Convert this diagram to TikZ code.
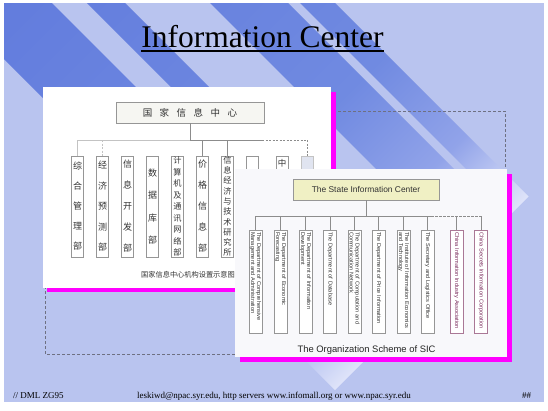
\documentclass[tikz,border=0pt]{standalone}
\usepackage{fontspec}
\setmainfont{Liberation Serif}
\newfontfamily\arial{Liberation Sans}
\newfontfamily\cjk{Noto Sans CJK SC}
\definecolor{bgblue}{RGB}{185,196,239}
\definecolor{bandA}{RGB}{98,124,221}
\definecolor{bandB}{RGB}{112,138,225}
\definecolor{bandC}{RGB}{145,163,233}
\definecolor{bandD}{RGB}{228,232,250}
\definecolor{pinkbar}{RGB}{255,0,255}
\definecolor{framegray}{RGB}{110,112,130}
\definecolor{linegray}{RGB}{140,140,140}
\definecolor{lightline}{RGB}{195,195,195}
\definecolor{boxgray}{RGB}{150,150,150}
\definecolor{txtgray}{RGB}{50,50,50}
\definecolor{purpleline}{RGB}{170,120,150}
\definecolor{purpletext}{RGB}{120,40,90}
\definecolor{yellowfill}{RGB}{240,240,196}
\definecolor{paper}{RGB}{248,248,251}
\definecolor{cnfill}{RGB}{224,228,240}
\definecolor{cntopfill}{RGB}{246,246,242}
\pgfdeclarehorizontalshading{bandshade}{100bp}{color(0bp)=(bandA); color(25bp)=(bandA); color(55bp)=(bandB); color(66bp)=(bandC); color(75bp)=(bandD); color(100bp)=(bandD)}
\begin{document}
\begin{tikzpicture}[x=1pt,y=-1pt,
  cnbox/.style={draw=boxgray, line width=0.6pt, fill=white, minimum width=12pt, minimum height=101pt, inner sep=0pt, align=center, text=txtgray},
  enbox/.style={draw=boxgray, line width=0.6pt, fill=white, rotate=-90, minimum width=103pt, minimum height=13pt, text width=99pt, inner xsep=2pt, inner ysep=0.5pt, align=left, font=\arial\fontsize{5.6}{6}\selectfont, text=txtgray},
  enpurple/.style={enbox, draw=purpleline, text=purpletext},
  conn/.style={draw=linegray, line width=0.6pt},
  lconn/.style={draw=lightline, line width=0.6pt},
  foot/.style={anchor=base west, inner sep=0pt, font=\fontsize{9}{11}\selectfont, text=black}]
\useasboundingbox (0,0) rectangle (548,410);
\fill[white] (0,0) rectangle (548,410);
\fill[bgblue] (4,3) rectangle (544,402);
% diagonal stripes
\begin{scope}
  \clip (4,3) rectangle (544,402);
  \clip (0,0) -- (725,0) -- (0,725) -- cycle;
  \clip (-55,0) -- (49,0) -- (849,800) -- (745,800) -- cycle
        (84,0) -- (122,0) -- (922,800) -- (884,800) -- cycle
        (207,0) -- (285,0) -- (1085,800) -- (1007,800) -- cycle
        (297,0) -- (332,0) -- (1132,800) -- (1097,800) -- cycle;
  \begin{scope}[transform canvas={rotate=-45}]
    \shade[shading=bandshade] (0,-600) rectangle (518,600);
  \end{scope}
\end{scope}
% title
\node[anchor=base, inner sep=0pt, font=\fontsize{31.5}{36}\selectfont] (title) at (262.5,47) {Information Center};
\draw[line width=1.8pt] ([yshift=-4pt]title.base west) -- ([yshift=-4pt]title.base east);
% dashed frame
\draw[framegray, line width=0.8pt, dash pattern=on 3pt off 2pt] (45,111) rectangle (505,354);
% ---------- panel 1 (Chinese) ----------
\fill[pinkbar] (47,92) rectangle (336,292);
\fill[white] (43,87) rectangle (331,288);
\node[draw=boxgray, line width=0.8pt, fill=cntopfill, minimum width=148pt, minimum height=21pt, inner sep=0pt, text=txtgray, font=\cjk\fontsize{9.5}{11}\selectfont] (cntop) at (190,112.5) {国\hspace{7.5pt}家\hspace{7.5pt}信\hspace{7.5pt}息\hspace{7.5pt}中\hspace{7.5pt}心};
\node[cnbox, font=\cjk\fontsize{9}{20}\selectfont] (c1) at (77.5,206.5) {综\\合\\管\\理\\部};
\node[cnbox, font=\cjk\fontsize{9}{20.5}\selectfont] (c2) at (102.5,206.5) {经\\济\\预\\测\\部};
\node[cnbox, font=\cjk\fontsize{9}{21}\selectfont] (c3) at (127.5,206.5) {信\\息\\开\\发\\部};
\node[cnbox, font=\cjk\fontsize{9}{22.5}\selectfont] (c4) at (152.5,206.5) {数\\据\\库\\部};
\node[cnbox, font=\cjk\fontsize{8.2}{11.5}\selectfont] (c5) at (177.5,206.5) {计\\算\\机\\及\\通\\讯\\网\\络\\部};
\node[cnbox, font=\cjk\fontsize{9}{21}\selectfont] (c6) at (202.5,206.5) {价\\格\\信\\息\\部};
\node[cnbox, font=\cjk\fontsize{8.2}{10.3}\selectfont] (c7) at (227.5,206.5) {信\\息\\经\\济\\与\\技\\术\\研\\究\\所};
\node[cnbox] (c8) at (252.5,206.5) {};
\node[cnbox] (c9) at (282,206.5) {};
\node[inner sep=0pt, text=txtgray, font=\cjk\fontsize{8.5}{10}\selectfont] (c9t) at (282,163) {中};
\node[cnbox, fill=cnfill, draw=lightline] (c10) at (307,206.5) {};
\coordinate (cbus) at (190,140);
\coordinate (cdash) at (262,140);
\draw[conn] (cntop.south) -- (cbus);
\draw[lconn] (c1.north |- cbus) -- (cbus);
\draw[conn] (cbus) -- (cdash);
\draw[conn, dash pattern=on 2pt off 1.5pt] (cdash) -- (c10.north |- cbus);
\draw[lconn] (c1.north |- cbus) -- (c1.north);
\draw[lconn, dash pattern=on 2pt off 1.5pt] (c2.north |- cbus) -- (c2.north);
\draw[conn] (c6.north |- cbus) -- (c6.north);
\draw[conn] (c7.north |- cbus) -- (c7.north);
\draw[conn, dash pattern=on 2pt off 1.5pt] (c10.north |- cbus) -- (c10.north);
\node[anchor=west, inner sep=0pt, text=txtgray, font=\cjk\fontsize{7.2}{9}\selectfont] (cncap) at (141,275) {国家信息中心机构设置示意图};
% ---------- panel 2 (English) ----------
\fill[pinkbar] (240,174) rectangle (512,362);
\fill[paper] (235,169) rectangle (507,357);
\node[draw=boxgray, line width=0.8pt, fill=yellowfill, minimum width=146pt, minimum height=21pt, inner sep=0pt, text=txtgray, font=\arial\fontsize{8.4}{10}\selectfont] (etop) at (366,189.5) {The State Information Center};
\node[enbox] (e1) at (255.5,281.5) {The Department of Comprehensive\\Management and Administration};
\node[enbox] (e2) at (280.5,281.5) {The Department of Economic\\Forecasting};
\node[enbox] (e3) at (305.5,281.5) {The Department of Information\\Development};
\node[enbox] (e4) at (330,281.5) {The Department of Database};
\node[enbox] (e5) at (354.5,281.5) {The Department of Computation and\\Communication Network};
\node[enbox] (e6) at (378.5,281.5) {The Department of Price Information};
\node[enbox] (e7) at (403.5,281.5) {The Institute of Information Economics\\and Technology};
\node[enbox] (e8) at (427.5,281.5) {The Secretary and Logistics Office};
\node[enpurple] (e9) at (456.5,281.5) {China Information Industry Association};
\node[enpurple] (e10) at (481,281.5) {China Secrets Information Corporation};
\coordinate (ebus) at (366,216);
\coordinate (edash) at (431,216);
\draw[conn] (etop.south) -- (ebus);
\draw[conn] (e1.west |- ebus) -- (edash);
\draw[conn, dash pattern=on 2.5pt off 1.5pt] (edash) -- (e10.west |- ebus);
\foreach \k in {1,...,10} {\draw[conn] (e\k.west |- ebus) -- (e\k.west);}
\node[inner sep=0pt, text=black!85, font=\arial\fontsize{9.4}{11}\selectfont] (ecap) at (366.5,350.5) {The Organization Scheme of SIC};
% footer
\node[foot] (f1) at (13,398) {// DML ZG95};
\node[foot] (f2) at (137,398) {leskiwd@npac.syr.edu, http servers www.infomall.org or www.npac.syr.edu};
\node[foot] (f3) at (522,398) {\#\#};
\end{tikzpicture}
\end{document}
